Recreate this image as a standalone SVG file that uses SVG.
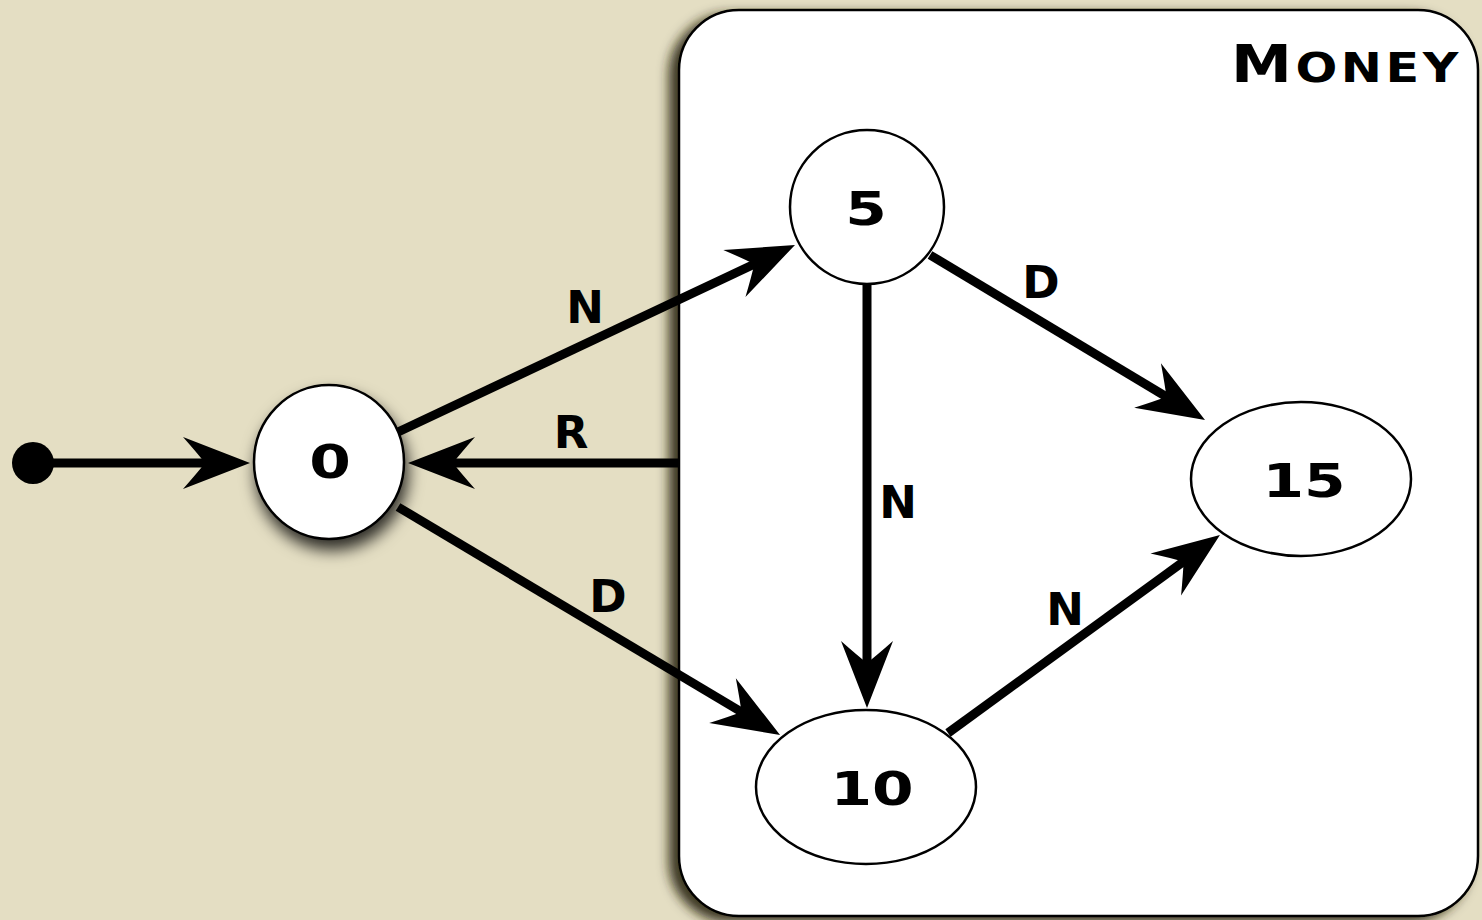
<svg xmlns="http://www.w3.org/2000/svg" width="1482" height="920" viewBox="0 0 1482 920">
<style>
.node{fill:#fff;stroke:#000;stroke-width:2.5}
.edge{fill:none;stroke:#000;stroke-width:9;stroke-linecap:butt}
.lbl{font-family:"DejaVu Sans","Liberation Sans",sans-serif;font-weight:bold;font-size:45px;fill:#000;text-anchor:middle}
.num{font-family:"DejaVu Sans","Liberation Sans",sans-serif;font-weight:bold;font-size:46px;fill:#000;text-anchor:middle}
</style>
<defs>
<marker id="arr" markerUnits="userSpaceOnUse" markerWidth="90" markerHeight="70" refX="-40" refY="0" orient="auto" overflow="visible" viewBox="-80 -35 90 70">
<path d="M0,0 L-67,-26 Q-52,-9 -45,0 Q-52,9 -67,26 Z" fill="#000"/>
</marker>
<filter id="sh" x="-40%" y="-40%" width="180%" height="180%">
<feDropShadow dx="3" dy="10" stdDeviation="8" flood-color="#000" flood-opacity="0.8"/>
</filter>
<filter id="shc" x="-10%" y="-10%" width="120%" height="120%">
<feDropShadow dx="-9" dy="5" stdDeviation="6" flood-color="#2a2410" flood-opacity="0.9"/>
</filter>
</defs>
<rect x="0" y="0" width="1482" height="920" fill="#E4DEC3"/>
<g id="money">
<rect x="679" y="10" width="799" height="906" rx="60" ry="60" fill="#fff" stroke="#000" stroke-width="2.5" filter="url(#shc)"/>
<text transform="translate(1462,82) scale(1.2,1)" font-family="DejaVu Sans, Liberation Sans, sans-serif" font-weight="bold" text-anchor="end" letter-spacing="3"><tspan font-size="51">M</tspan><tspan font-size="41">ONEY</tspan></text>
</g>
<g id="start">
<circle cx="33" cy="463" r="21" fill="#000"/>
</g>
<g id="n0">
<ellipse class="node" cx="329" cy="462" rx="75" ry="77" filter="url(#sh)"/>
<text class="num" font-size="44" transform="translate(330,478) scale(1.3,1)">0</text>
</g>
<g id="n5">
<ellipse class="node" cx="867" cy="207" rx="77" ry="77"/>
<text class="num" font-size="47" transform="translate(866,225) scale(1.3,1)">5</text>
</g>
<g id="n15">
<ellipse class="node" cx="1301" cy="479" rx="110" ry="77"/>
<text class="num" font-size="47" transform="translate(1304,497) scale(1.3,1)">15</text>
</g>
<g id="n10">
<ellipse class="node" cx="866" cy="787" rx="110" ry="77"/>
<text class="num" font-size="47" transform="translate(872,805) scale(1.3,1)">10</text>
</g>
<g id="connectors">
<line class="edge" x1="33" y1="463" x2="210" y2="463" marker-end="url(#arr)"/>
<line class="edge" x1="398" y1="432" x2="758.8" y2="262" marker-end="url(#arr)"/>
<line class="edge" x1="679" y1="463" x2="448" y2="463" marker-end="url(#arr)" stroke-linecap="round"/>
<line class="edge" x1="398" y1="507" x2="745.7" y2="714.5" marker-end="url(#arr)"/>
<line class="edge" x1="930" y1="255" x2="1170.7" y2="399.4" marker-end="url(#arr)"/>
<line class="edge" x1="867" y1="285" x2="867" y2="668" marker-end="url(#arr)"/>
<line class="edge" x1="948" y1="733" x2="1187.6" y2="558.6" marker-end="url(#arr)"/>
<text class="lbl" x="585" y="323">N</text>
<text class="lbl" x="571" y="448">R</text>
<text class="lbl" x="608" y="612">D</text>
<text class="lbl" x="1041" y="298">D</text>
<text class="lbl" x="898" y="518">N</text>
<text class="lbl" x="1065" y="625">N</text>
</g>
</svg>
